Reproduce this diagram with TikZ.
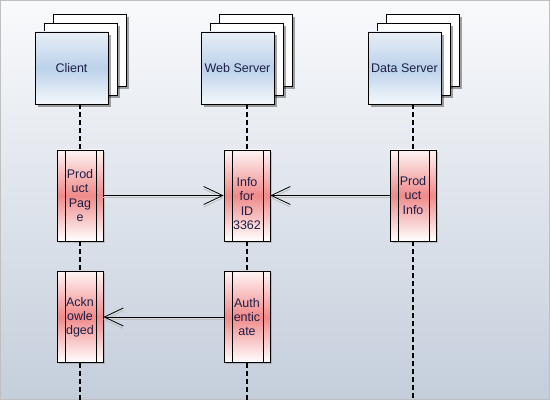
\documentclass[tikz,border=0pt]{standalone}
\usepackage{fontspec}
\setmainfont{Liberation Sans}
\usetikzlibrary{arrows.meta,shadows}
\definecolor{txt}{HTML}{1E1E46}
\definecolor{bgtop}{HTML}{F9FAFC}
\definecolor{bgbot}{HTML}{C4CEDB}
\definecolor{boxtop}{HTML}{E8EEF6}
\definecolor{boxmid}{HTML}{BBD2EA}
\definecolor{boxbot}{HTML}{F4F7FB}
\definecolor{actmid}{HTML}{F08A8A}
\definecolor{acttop}{HTML}{FFF4F4}
\begin{document}
\begin{tikzpicture}[x=1pt,y=-1pt,
  shadowed/.style={drop shadow={shadow xshift=3pt,shadow yshift=-3pt,fill=black,opacity=0.35}},
  backbox/.style={draw=black,line width=0.8pt,fill=white,minimum width=73pt,minimum height=72pt,inner sep=0pt,shadowed},
  frontbox/.style={backbox,top color=boxtop,bottom color=boxbot,middle color=boxmid,text=txt,font=\fontsize{12.5}{14}\selectfont},
  actbox/.style={draw=black,line width=0.8pt,minimum width=46pt,minimum height=91pt,inner sep=0pt,
    top color=acttop,bottom color=white,middle color=actmid,text=txt,align=center,
    font=\fontsize{12.5}{14.2}\selectfont,
    drop shadow={shadow xshift=2pt,shadow yshift=-2pt,fill=black,opacity=0.15},
    path picture={
      \draw[line width=0.8pt] ([xshift=8pt]path picture bounding box.north west) -- ([xshift=8pt]path picture bounding box.south west);
      \draw[line width=0.8pt] ([xshift=-7pt]path picture bounding box.north east) -- ([xshift=-7pt]path picture bounding box.south east);}},
  life/.style={line width=2pt,dash pattern=on 5pt off 3pt,black},
  msg/.style={line width=0.8pt,black,-{Straight Barb[length=19pt,width=18pt,line width=0.8pt]},
    preaction={draw=black!25,line width=1pt,transform canvas={yshift=-2.5pt}}}
]
% background
\fill[top color=bgtop,bottom color=bgbot] (0,0) rectangle (550,400);
\draw[black!25,line width=1pt] (0.5,0.5) rectangle (549.5,399.5);

% lifeline heads
\node[backbox] (cb) at (89.5,50) {};
\node[backbox] (cm) at (80.5,59) {};
\node[frontbox] (cf) at (71.5,68) {Client};
\node[backbox] (wb) at (255.5,50) {};
\node[backbox] (wm) at (246.5,59) {};
\node[frontbox] (wf) at (237.5,68) {Web Server};
\node[backbox] (db) at (422.5,50) {};
\node[backbox] (dm) at (413.5,59) {};
\node[frontbox] (df) at (404.5,68) {Data Server};

% activation boxes
\node[actbox] (c1) at (80,195.5) {Prod\\uct\\Pag\\e};
\node[actbox,label={[text=txt,align=center,font=\fontsize{12.5}{14.2}\selectfont,yshift=-8pt]center:Info\\for\\ID\\3362}] (w1) at (247,195.5) {};
\node[actbox] (d1) at (413,195.5) {Prod\\uct\\Info};
\node[actbox] (c2) at (80,317) {Ackn\\owle\\dged};
\node[actbox] (w2) at (247,317) {Auth\\entic\\ate};

\coordinate (cend) at (80,400);
\coordinate (wend) at (247,400);
\coordinate (dend) at (413,400);

% lifelines
\draw[life] (c1.north |- cf.south) -- (c1.north);
\draw[life] (c1.south) -- (c2.north);
\draw[life] (c2.south) -- (cend);
\draw[life] (w1.north |- wf.south) -- (w1.north);
\draw[life] (w1.south) -- (w2.north);
\draw[life] (w2.south) -- (wend);
\draw[life] (d1.north |- df.south) -- (d1.north);
\draw[life] (d1.south) -- (dend);

% messages
\draw[msg] (c1.east) -- (w1.west);
\draw[msg] (d1.west) -- (w1.east);
\draw[msg] (w2.west) -- (c2.east);

\useasboundingbox (0,0) rectangle (550,400);
\end{tikzpicture}
\end{document}
